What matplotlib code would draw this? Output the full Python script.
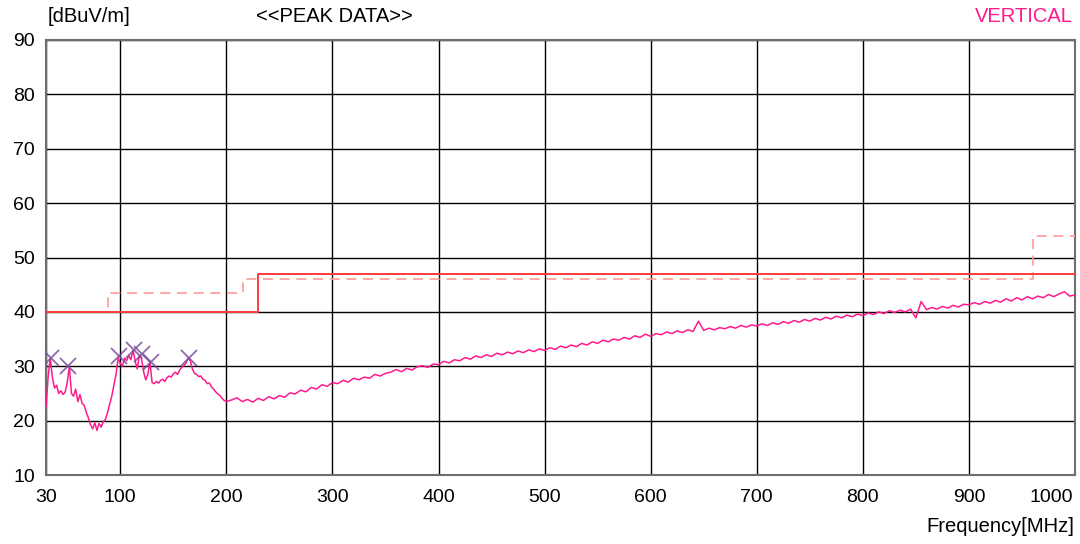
import numpy as np
import matplotlib.pyplot as plt
from matplotlib.transforms import ScaledTranslation

plt.rcParams['font.family'] = ['Liberation Sans', 'DejaVu Sans']

# measured trace, 30-200 MHz (2 MHz steps)
freq_low = list(range(30, 201, 2))
level_low = [22.5, 28.0, 31.5, 28.0, 26.0, 26.5, 25.0, 25.5, 24.8, 25.2,
             27.0, 30.0, 25.0, 24.5, 25.8, 23.5, 24.8, 23.2, 22.8, 21.5,
             20.5, 19.2, 18.5, 19.6, 18.2, 19.5, 18.8, 19.8, 20.2, 21.5,
             23.0, 24.5, 26.5, 28.5, 31.5, 30.5, 30.0, 31.5, 31.0, 32.0,
             31.2, 33.0, 31.0, 29.5, 32.0, 31.5, 29.0, 27.5, 28.5, 30.8,
             27.0, 26.8, 27.2, 26.9, 27.4, 27.6, 27.2, 27.9, 28.2, 28.0,
             28.6, 28.9, 28.5, 29.3, 29.8, 30.1, 30.6, 31.5, 31.0, 29.5,
             28.7, 28.5, 28.1, 28.2, 27.6, 27.4, 26.8, 26.9, 26.2, 25.8,
             25.3, 24.9, 24.6, 24.1, 23.7, 23.5]

# measured trace, 205-1000 MHz (5 MHz steps)
freq_high = list(range(205, 1001, 5))
level_high = [23.8, 24.2, 23.5, 23.9, 23.4, 24.1, 23.7, 24.4, 24.0, 24.6,
              24.3, 25.1, 24.9, 25.6, 25.3, 26.1, 25.8, 26.6, 26.3, 27.0,
              26.8, 27.4, 27.1, 27.8, 27.5, 28.0, 27.8, 28.5, 28.2, 28.7,
              28.9, 29.4, 29.0, 29.6, 29.3, 29.9, 30.1, 29.8, 30.4, 30.3,
              30.9, 30.6, 31.2, 31.0, 31.6, 31.3, 31.9, 31.6, 32.1, 31.8,
              32.4, 32.1, 32.6, 32.3, 32.8, 32.5, 33.0, 32.7, 33.2, 32.9,
              33.4, 33.1, 33.7, 33.4, 33.9, 33.6, 34.2, 33.9, 34.5, 34.2,
              34.8, 34.5, 35.0, 34.8, 35.3, 35.0, 35.6, 35.3, 35.9, 35.5,
              36.0, 35.8, 36.3, 36.0, 36.5, 36.2, 36.7, 36.4, 38.3, 36.6,
              37.0, 36.7, 37.1, 36.9, 37.3, 37.0, 37.5, 37.2, 37.6, 37.4,
              37.8, 37.5, 38.0, 37.7, 38.2, 37.9, 38.4, 38.1, 38.6, 38.3,
              38.8, 38.5, 39.0, 38.7, 39.2, 38.9, 39.4, 39.1, 39.6, 39.3,
              39.8, 39.5, 40.0, 39.7, 40.2, 39.9, 40.3, 40.0, 40.5, 38.9,
              41.9, 40.4, 40.8, 40.5, 41.0, 40.7, 41.2, 40.9, 41.4, 41.3,
              41.7, 41.4, 41.9, 41.6, 42.1, 41.8, 42.4, 42.0, 42.6, 42.2,
              42.8, 42.4, 42.9, 42.6, 43.2, 42.8, 43.3, 43.7, 42.9, 43.1]

freq = freq_low + freq_high
level = level_low + level_high

# peak markers
peak_f = [34.4, 51.0, 99.1, 113.2, 120.2, 128.7, 165.1]
peak_v = [31.5, 30.0, 31.8, 33.0, 32.3, 30.8, 31.6]

# limit lines (step edges)
limit_f = [30, 230, 230, 1000]
limit_v = [40, 40, 47, 47]
limit2_f = [30, 88, 88, 216, 216, 960, 960, 1000]
limit2_v = [40, 40, 43.5, 43.5, 46, 46, 54, 54]

xticks = [30, 100, 200, 300, 400, 500, 600, 700, 800, 900, 1000]
yticks = [10, 20, 30, 40, 50, 60, 70, 80, 90]

fig = plt.figure(figsize=(10.8, 5.44), dpi=100)
ax = fig.add_axes([46/1080, 69/544, 1029/1080, 435/544])

ax.plot(limit2_f, limit2_v, color='#ff9a9a', lw=1.2, ls=(0, (6, 4)), zorder=3)
ax.plot(limit_f, limit_v, color='#ff3b3b', lw=1.4, zorder=4)
ax.plot(freq, level, color='#ff1a8c', lw=1.1, zorder=5)
ax.plot(peak_f, peak_v, ls='none', marker='x', ms=11, mew=1.3,
        color='#7d4f9e', alpha=0.85, zorder=6)

ax.set_xlim(30, 1000)
ax.set_ylim(10, 90)
ax.set_xticks(xticks)
ax.set_yticks(yticks)
ax.grid(True, color='black', lw=1.0)
ax.set_axisbelow(True)
ax.tick_params(length=0, labelsize=14)
ax.tick_params(axis='x', pad=10)
ax.tick_params(axis='y', pad=8)
for s in ax.spines.values():
    s.set_color('#6e6e6e')
    s.set_linewidth(1.5)

lab = ax.get_xticklabels()[-1]
lab.set_horizontalalignment('right')
lab.set_transform(lab.get_transform() + ScaledTranslation(-0.02, 0, fig.dpi_scale_trans))

fig.text(48/1080, 1 - 17/544, '[dBuV/m]', fontsize=14.5, va='center', ha='left')
fig.text(256/1080, 1 - 17/544, '<<PEAK DATA>>', fontsize=14.5, va='center', ha='left')
fig.text(1073/1080, 1 - 17/544, 'VERTICAL', fontsize=14.5, va='center', ha='right',
         color='#ff1a8c')
fig.text(1074/1080, 1 - 527/544, 'Frequency[MHz]', fontsize=14.5, va='center', ha='right')

fig.savefig('out.png', dpi=100)
